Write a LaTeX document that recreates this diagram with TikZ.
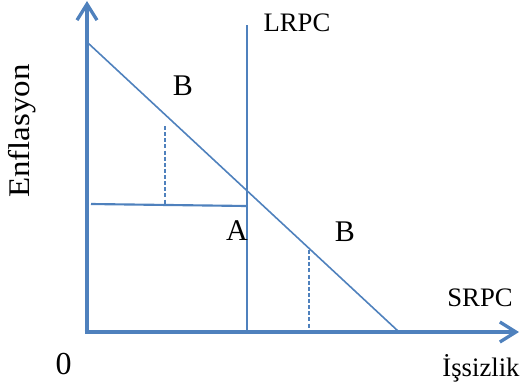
\documentclass[tikz,border=0pt]{standalone}
\usepackage{fontspec}
\setmainfont{Liberation Serif}
\usepackage{tikz}
\usetikzlibrary{arrows.meta}
\definecolor{lineblue}{HTML}{4F81BD}
\tikzset{
  axis/.style={draw=lineblue,line width=2.5pt,-{Straight Barb[length=12pt,width=15pt]}},
  curve/.style={draw=lineblue,line width=1.2pt},
  longrun/.style={draw=lineblue,line width=1.6pt},
  guide/.style={draw=lineblue,line width=1.2pt,dash pattern=on 3pt off 1.6pt},
  lbl/.style={inner sep=0pt,font=\fontsize{22.5}{26}\selectfont},
  smalllbl/.style={inner sep=0pt,font=\fontsize{20}{24}\selectfont},
}
\begin{document}
\begin{tikzpicture}[x=0.75pt,y=-0.75pt]
  \useasboundingbox (0,0) rectangle (521,387);
  % axes
  \coordinate (origin) at (87,332);
  \coordinate (ytop) at (87,1);
  \coordinate (xend) at (519,332);
  \draw[axis] (origin) -- (ytop);
  \draw[axis] ([xshift=-1.8pt]origin) -- (xend);

  % curves
  \coordinate (srpcTop) at (88,43);
  \coordinate (srpcBot) at (398,331);
  \coordinate (lrpcTop) at (247,25);
  \coordinate (lrpcBot) at (247,331);
  \draw[curve] (srpcTop) -- (srpcBot);
  \draw[longrun] (lrpcTop) -- (lrpcBot);

  \coordinate (levelL) at (91,204);
  \coordinate (levelR) at (247,206);
  \draw[longrun] (levelL) -- (levelR);

  \coordinate (dropOneTop) at (165,126);
  \coordinate (dropOneBot) at (165,205);
  \coordinate (dropTwoTop) at (309,250);
  \coordinate (dropTwoBot) at (309,331);
  \draw[guide] (dropOneTop) -- (dropOneBot);
  \draw[guide] (dropTwoTop) -- (dropTwoBot);

  % labels
  \node[smalllbl] (lrpc) at (297,23) {LRPC};
  \node[smalllbl] (srpc) at (480,297.5) {SRPC};
  \node[lbl] (bUp) at (183,85.5) {B};
  \node[lbl] (bDown) at (345,232) {B};
  \node[lbl] (aPt) at (237,231) {A};
  \node[lbl,font=\fontsize{24}{28}\selectfont] (zero) at (63.5,364) {0};
  \node[smalllbl,anchor=base] (issizlik) at (481,376) {İşsizlik};
  \node[lbl,rotate=90,xscale=1.1] (enf) at (22,131) {Enflasyon};
\end{tikzpicture}
\end{document}
